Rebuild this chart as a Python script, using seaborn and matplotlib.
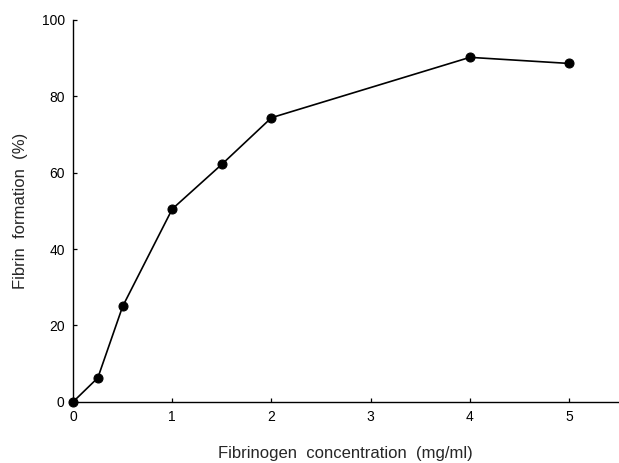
import matplotlib
matplotlib.use("Agg")
import matplotlib.pyplot as plt
import pandas as pd
import seaborn as sns

# values
concentration = [0, 0.25, 0.5, 1, 1.5, 2, 4, 5]
fibrin_pct = [0, 6.3, 25, 50.5, 62.2, 74.4, 90.2, 88.6]

x_ticks = [0, 1, 2, 3, 4, 5]
y_ticks = [0, 20, 40, 60, 80, 100]

sns.set_style("ticks")
plt.rcParams["font.family"] = ["Liberation Sans", "DejaVu Sans"]

df = pd.DataFrame({"conc": concentration, "fibrin": fibrin_pct})

fig = plt.figure(figsize=(6.19, 4.63), dpi=100)
ax = fig.add_axes([0.118, 0.132, 0.88, 0.825])

sns.lineplot(
    data=df, x="conc", y="fibrin", ax=ax,
    color="black", linewidth=1.2, marker="o", markersize=6.5,
    markeredgecolor="black", markerfacecolor="black", clip_on=False,
)

ax.set_xlim(0, 5.49)
ax.set_ylim(0, 100)
ax.set_xticks(x_ticks)
ax.set_yticks(y_ticks)
ax.tick_params(direction="in", length=3, width=0.9, labelsize=10, pad=6, colors="black")
for side in ["top", "right"]:
    ax.spines[side].set_visible(False)
for side in ["left", "bottom"]:
    ax.spines[side].set_linewidth(1.0)
    ax.spines[side].set_color("black")

ax.set_xlabel("Fibrinogen  concentration  (mg/ml)", fontsize=12, labelpad=16)
ax.set_ylabel("Fibrin  formation  (%)", fontsize=12, labelpad=10)

fig.savefig("out.png", dpi=100)
